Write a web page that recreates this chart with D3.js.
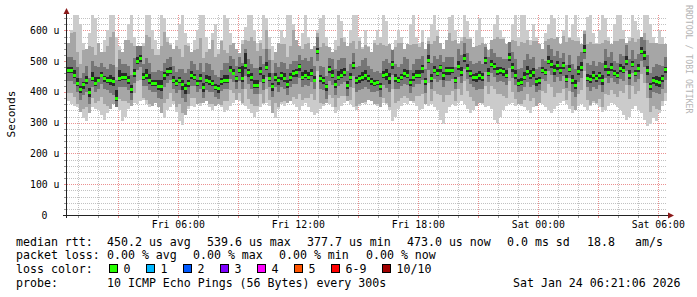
<!DOCTYPE html>
<html><head><meta charset="utf-8">
<script src="https://cdn.jsdelivr.net/npm/d3@7"></script>
<style>
body{margin:0;background:#fff}
svg{display:block}
text{font-family:"DejaVu Sans Mono",monospace;fill:#000}
</style>
</head><body>
<svg id="c" width="697" height="297"></svg>
<script>
// ---- data (microseconds) ----
// median RTT per 9-minute column (200 columns)
const medianRtt = [
472,472,455,430,410,425,440,400,445,430,
440,455,445,440,440,436,380,446,450,450,
440,410,460,500,510,450,455,440,430,430,
420,418,455,468,468,440,430,440,425,412,
428,455,450,430,445,415,440,435,430,415,
412,437,440,440,472,462,445,472,445,488,
466,450,424,424,468,440,480,445,418,450,
440,456,445,425,450,462,466,484,450,456,
450,462,440,532,445,440,418,475,456,425,
450,456,466,422,450,487,440,445,450,456,
445,436,430,432,418,456,458,445,490,445,
440,450,462,456,432,450,456,456,478,436,
505,445,472,462,480,456,470,470,472,440,
483,465,510,478,462,450,450,456,450,505,
462,490,483,468,472,467,456,512,480,456,
430,432,450,468,456,464,434,440,472,465,
502,490,472,488,470,486,443,474,440,424,
467,480,537,445,443,456,445,456,440,484,
465,480,462,455,478,472,502,456,490,462,
478,534,520,470,420,440,435,432,445,473];

// slowest / fastest ping per column (200 columns)
const smokeMax = [
560,600,655,660,620,560,540,590,655,640,560,530,570,600,655,660,580,550,530,570,
620,655,580,540,530,560,655,660,600,570,540,655,640,580,560,540,570,620,655,590,
560,530,570,600,660,650,580,540,590,620,540,570,655,640,590,560,540,525,570,610,
650,660,600,560,570,655,640,580,550,530,560,600,575,655,660,620,570,550,590,655,
580,540,550,600,640,660,580,545,530,570,655,630,580,550,600,655,660,580,545,600,
550,530,570,600,580,655,630,555,530,570,600,580,540,555,620,655,580,560,600,540,
580,620,655,600,560,540,570,645,660,600,555,580,655,630,580,545,600,640,580,555,
535,570,620,655,600,580,555,540,620,655,580,655,660,600,570,620,580,555,540,590,
620,655,640,580,555,600,655,580,620,655,580,555,600,645,660,590,560,600,655,640,
580,555,620,655,660,600,560,580,655,630,600,575,655,660,620,580,560,600,580,555];
const smokeMin = [
370,360,355,350,335,315,305,330,350,345,340,325,310,330,345,360,350,340,305,320,
345,355,365,360,370,375,360,350,355,365,350,330,315,340,350,360,335,305,292,325,
345,355,350,360,355,365,370,350,340,355,360,350,335,340,355,365,375,370,360,355,
345,330,320,335,350,360,365,355,330,315,345,360,355,365,370,360,350,340,355,365,
350,335,325,330,345,355,365,360,350,330,340,355,365,370,360,350,340,355,365,360,
375,370,360,355,350,365,360,340,305,320,345,355,365,360,370,365,355,340,345,360,
355,360,350,340,310,295,330,350,360,355,365,370,360,345,330,340,355,365,360,350,
355,345,310,300,320,340,355,360,365,355,360,355,350,340,330,350,355,365,360,350,
340,330,345,355,365,370,360,345,330,340,355,360,350,340,355,365,360,350,335,340,
355,365,360,350,340,325,310,320,345,355,340,330,310,290,295,315,305,330,355,370];
// upper spread of the 2nd-slowest ping above the median (200 columns)
const outerUp = [
90,120,140,100,80,110,130,150,100,90,120,95,85,110,140,160,100,90,80,120,
130,150,90,70,60,100,130,140,110,90,100,130,140,95,85,110,120,100,90,140,
120,100,85,110,130,95,90,120,140,100,110,130,95,85,80,100,120,90,110,80,
100,130,140,110,90,100,120,95,85,130,120,100,110,90,100,140,120,95,90,100,
110,90,130,60,100,120,130,95,90,110,100,120,95,130,110,80,100,120,90,95,
100,110,130,120,140,95,90,110,70,100,120,110,95,100,120,105,100,90,85,120,
60,110,95,120,90,100,110,120,95,130,90,100,70,95,110,120,100,95,110,70,
100,85,90,110,100,105,120,60,90,110,120,130,110,100,95,100,130,120,90,100,
70,85,100,90,105,95,120,100,130,140,100,90,60,110,120,100,110,100,120,85,
100,90,105,110,95,100,80,110,85,100,95,60,70,100,140,120,130,125,110,90];
// inner spreads around the median per 18-minute interval (100 intervals)
const outerDown = [
75,70,80,90,65,70,85,95,70,80,75,65,70,80,75,85,90,70,80,95,75,70,80,75,70,
80,70,65,75,80,90,70,75,70,85,90,75,80,90,75,70,65,80,85,75,70,80,75,85,90,
80,70,75,95,80,70,75,80,70,85,75,70,90,80,70,75,75,80,95,85,70,75,80,75,80,
70,75,85,80,70,75,90,75,70,85,75,70,85,80,90,75,70,75,80,70,75,90,85,90,75];
const midUp = [
40,50,35,45,55,40,35,50,60,40,45,50,40,55,35,50,40,45,35,50,45,40,50,55,40,
35,55,45,40,50,40,55,50,60,45,40,50,40,35,55,50,45,40,35,50,55,45,40,40,55,
40,35,45,50,45,40,50,40,50,40,50,45,40,45,40,55,50,40,45,40,50,45,40,50,50,
45,55,50,40,35,50,45,40,45,50,50,50,45,40,55,50,40,45,50,45,45,50,40,55,40];
const midDown = [
35,30,35,40,30,30,35,45,30,35,35,30,30,35,30,40,40,30,35,45,35,30,35,35,30,
35,30,30,35,35,40,30,35,30,35,40,35,35,40,35,30,30,35,40,35,30,35,35,40,40,
35,30,35,45,35,30,35,35,30,40,35,30,40,35,30,35,35,35,45,40,30,35,35,35,35,
30,35,40,35,30,35,40,35,30,40,35,30,40,35,40,35,30,35,35,30,35,40,40,40,35];
const coreUp = [
10,15,8,12,20,10,8,14,25,10,12,15,10,18,8,20,10,12,9,15,12,8,14,16,10,
9,16,12,8,40,10,15,14,18,12,9,15,10,8,16,14,12,10,9,15,18,12,10,9,15,
10,8,12,16,12,9,14,10,15,10,14,12,9,12,10,16,14,9,12,10,15,12,10,14,14,
12,16,14,10,8,15,14,10,12,14,16,14,12,10,16,14,10,12,15,10,12,14,10,16,9];
const coreDown = [
12,10,14,15,10,8,12,16,10,12,14,10,12,14,10,15,16,10,12,18,12,10,14,12,10,
14,10,8,12,14,16,10,12,10,14,16,12,14,16,12,10,8,14,15,12,10,14,12,15,16,
14,10,12,18,14,10,12,14,10,15,12,10,16,14,10,12,12,14,18,15,10,12,14,12,14,
10,12,15,14,10,12,16,12,10,15,12,10,15,14,16,12,10,12,14,10,12,16,15,16,12];

const yTicks = [0,100,200,300,400,500,600];
const lossLabels = ["0","1","2","3","4","5","6-9","10/10"];
const lossColors = ["#26ff00","#00b8ff","#0059ff","#7e00ff","#ff00ff","#ff5500","#ff0000","#a10000"];
const legendRtt = [["median rtt:",16],["450.2 us avg",107],["539.6 us max",207],["377.7 us min",307],["473.0 us now",407],["0.0 ms sd",507],["18.8",587],["am/s",635]];
const legendLoss = [["packet loss:",16],["0.00 % avg",107],["0.00 % max",193],["0.00 % min",279],["0.00 % now",366]];
const probeText = "10 ICMP Echo Pings (56 Bytes) every 300s";
const stampText = "Sat Jan 24 06:21:06 2026";

// ---- layout ----
const svg = d3.select("#c");
svg.append("rect").attr("width",697).attr("height",297).attr("fill","#fff");
const L=67,R=667,T=15,B=215;
const tStart = new Date(2026,0,23,0,26), tEnd = new Date(2026,0,24,6,26);
const x = d3.scaleTime().domain([tStart,tEnd]).range([L,R]);
const y = d3.scaleLinear().domain([0,650]).range([B,T]);
const px = v => Math.round(v)+0.5;

// grid
const grid = svg.append("g").attr("shape-rendering","crispEdges");
const minorY = d3.range(20,650,20).filter(v=>v%100!==0);
const majorY = d3.range(100,650,100);
const hours = d3.timeHour.range(tStart,tEnd);
const minorX = hours.filter(h=>h.getHours()%3!==0);
const majorX = hours.filter(h=>h.getHours()%3===0);
const gridCol="#c2c2c2", mgridCol="#eb9090";
grid.selectAll(".gy").data(minorY).join("line")
  .attr("x1",L).attr("x2",R).attr("y1",d=>px(y(d))).attr("y2",d=>px(y(d)))
  .attr("stroke",gridCol).attr("stroke-dasharray","1,1");
grid.selectAll(".gx").data(minorX).join("line")
  .attr("y1",T).attr("y2",B).attr("x1",d=>px(x(d))).attr("x2",d=>px(x(d)))
  .attr("stroke",gridCol).attr("stroke-dasharray","1,1");
grid.selectAll(".my").data(majorY).join("line")
  .attr("x1",L).attr("x2",R).attr("y1",d=>px(y(d))).attr("y2",d=>px(y(d)))
  .attr("stroke",mgridCol).attr("stroke-dasharray","1,1");
grid.selectAll(".mx").data(majorX).join("line")
  .attr("y1",T).attr("y2",B).attr("x1",d=>px(x(d))).attr("x2",d=>px(x(d)))
  .attr("stroke",mgridCol).attr("stroke-dasharray","1,1");

// smoke
svg.append("clipPath").attr("id","pc").append("rect").attr("x",L).attr("y",T).attr("width",R-L).attr("height",B-T);
const smoke = svg.append("g").attr("clip-path","url(#pc)").attr("shape-rendering","crispEdges");
const colT = i => d3.timeMinute.offset(tStart, i*9);
const cols = medianRtt.map((m,i)=>{
  const j=Math.floor(i/2);
  return {i, mx:smokeMax[i], mn:smokeMin[i],
    oHi:Math.min(m+outerUp[i],smokeMax[i]), oLo:Math.max(m-outerDown[j],smokeMin[i]),
    mHi:m+midUp[j], mLo:m-midDown[j],
    cHi:m+coreUp[j], cLo:m-coreDown[j]};
});
const layers=[["mx","mn","#cbcbcb"],["oHi","oLo","#a6a6a6"],["mHi","mLo","#767676"],["cHi","cLo","#2a2a2a"]];
const cx0 = d=>Math.round(x(colT(d.i))), cx1 = d=>Math.round(x(colT(d.i+1)));
layers.forEach(([hk,lk,col])=>{
  smoke.append("g").selectAll("rect").data(cols).join("rect")
    .attr("x",cx0).attr("width",d=>cx1(d)-cx0(d))
    .attr("y",d=>Math.round(y(d[hk])))
    .attr("height",d=>Math.max(1,Math.round(y(d[lk]))-Math.round(y(d[hk]))))
    .attr("fill",col);
});
// median marks
smoke.append("g").selectAll("rect").data(cols).join("rect")
  .attr("x",cx0).attr("width",d=>cx1(d)-cx0(d))
  .attr("y",d=>Math.round(y(medianRtt[d.i]))-1)
  .attr("height",3)
  .attr("fill",lossColors[0]);

// ticks
const ticks = svg.append("g").attr("shape-rendering","crispEdges");
ticks.selectAll(".ty").data(minorY.concat(majorY)).join("line")
  .attr("x1",64).attr("x2",L).attr("y1",d=>px(y(d))).attr("y2",d=>px(y(d)))
  .attr("stroke",d=>d%100===0?mgridCol:"#999");
ticks.selectAll(".tx").data(hours).join("line")
  .attr("y1",B).attr("y2",B+3).attr("x1",d=>px(x(d))).attr("x2",d=>px(x(d)))
  .attr("stroke",d=>d.getHours()%3===0?mgridCol:"#999");

// axes
const ax = svg.append("g").attr("shape-rendering","crispEdges");
ax.append("line").attr("x1",63).attr("x2",669).attr("y1",B+0.5).attr("y2",B+0.5).attr("stroke","#222");
ax.append("line").attr("x1",L-0.5).attr("x2",L-0.5).attr("y1",B+3).attr("y2",T-2).attr("stroke","#222");
svg.append("path").attr("d",`M668,${B-2.5}L674,${B+0.5}L668,${B+3.5}Z`).attr("fill","#8b1a1a");
svg.append("path").attr("d",`M${L-3.5},14L${L-0.5},8L${L+2.5},14Z`).attr("fill","#8b1a1a");

// tick labels
svg.append("g").selectAll("text").data(yTicks).join("text")
  .attr("x",d=>d===0?47.5:59.5).attr("y",d=>y(d)+3.5)
  .attr("text-anchor","end").attr("font-size","9.8px")
  .text(d=>d===0?"0":d+" u");
const fmt = d3.timeFormat("%a %H:%M");
svg.append("g").selectAll("text").data(hours.filter(h=>h.getHours()%6===0)).join("text")
  .attr("x",d=>x(d)).attr("y",228).attr("text-anchor","middle").attr("font-size","9.8px")
  .text(d=>fmt(d));

// axis title and watermark
svg.append("text").attr("transform","translate(15,114) rotate(-90)").attr("text-anchor","middle")
  .attr("font-size","11.2px").text("Seconds");
svg.append("text").attr("transform","translate(685.5,5) rotate(90)").attr("font-size","8.2px")
  .style("fill","#b4b4b4").text("RRDTOOL / TOBI OETIKER");

// legend
const lg = svg.append("g").attr("font-size","11.6px").attr("xml:space","preserve");
lg.selectAll(".l1").data(legendRtt).join("text").attr("x",d=>d[1]).attr("y",245.5).text(d=>d[0]);
lg.selectAll(".l2").data(legendLoss).join("text").attr("x",d=>d[1]).attr("y",259).text(d=>d[0]);
lg.append("text").attr("x",16).attr("y",273).text("loss color:");
const sqX = [109,146,183,220,257,294,331,382];
lossLabels.forEach((lab,i)=>{
  lg.append("rect").attr("x",sqX[i]+0.5).attr("y",264.5).attr("width",8).attr("height",8)
    .attr("fill",lossColors[i]).attr("stroke","#000").attr("stroke-width",1).attr("shape-rendering","crispEdges");
  lg.append("text").attr("x",sqX[i]+14.5).attr("y",273).text(lab);
});
lg.append("text").attr("x",16).attr("y",286.5).text("probe:");
lg.append("text").attr("x",107).attr("y",286.5).text(probeText);
lg.append("text").attr("x",513).attr("y",286.5).text(stampText);
</script>
</body></html>
